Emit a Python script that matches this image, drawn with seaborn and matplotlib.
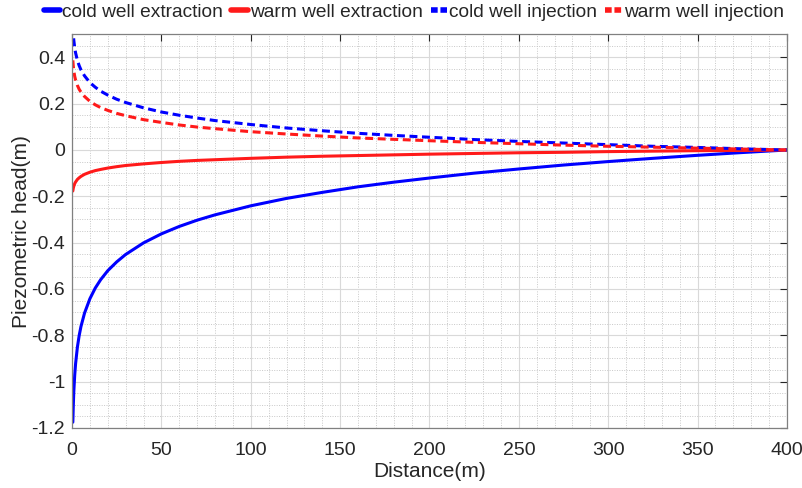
import matplotlib
matplotlib.use("Agg")
import matplotlib.pyplot as plt
from matplotlib.lines import Line2D
from matplotlib.ticker import MultipleLocator
import pandas as pd
import seaborn as sns

# distance from well (m)
distance = [0.45, 0.7, 1, 1.5, 2, 3, 4, 5, 7, 10, 13, 16, 20, 25, 30, 40, 50, 60, 70, 80,
            100, 120, 140, 160, 180, 200, 225, 250, 275, 300, 325, 350, 375, 400]

# piezometric head (m)
cold_extraction = [-1.175, -1.105, -1.042, -0.972, -0.922, -0.851, -0.801, -0.762, -0.704, -0.642,
                   -0.596, -0.560, -0.521, -0.483, -0.451, -0.401, -0.362, -0.330, -0.303, -0.280,
                   -0.241, -0.209, -0.183, -0.159, -0.139, -0.121, -0.100, -0.082, -0.065, -0.050,
                   -0.036, -0.023, -0.011, 0.0]
warm_extraction = [-0.177, -0.165, -0.156, -0.145, -0.138, -0.127, -0.120, -0.114, -0.105, -0.096,
                   -0.089, -0.084, -0.078, -0.072, -0.067, -0.060, -0.054, -0.049, -0.045, -0.042,
                   -0.036, -0.031, -0.027, -0.024, -0.021, -0.018, -0.015, -0.012, -0.010, -0.007,
                   -0.005, -0.003, -0.002, 0.0]
cold_injection = [0.536, 0.501, 0.473, 0.441, 0.419, 0.387, 0.364, 0.346, 0.320, 0.291,
                  0.271, 0.254, 0.237, 0.219, 0.205, 0.182, 0.164, 0.150, 0.138, 0.127,
                  0.110, 0.095, 0.083, 0.072, 0.063, 0.055, 0.045, 0.037, 0.030, 0.023,
                  0.016, 0.011, 0.005, 0.0]
warm_injection = [0.387, 0.362, 0.341, 0.318, 0.302, 0.279, 0.262, 0.250, 0.231, 0.210,
                  0.195, 0.183, 0.171, 0.158, 0.148, 0.131, 0.119, 0.108, 0.099, 0.092,
                  0.079, 0.069, 0.060, 0.052, 0.046, 0.040, 0.033, 0.027, 0.021, 0.016,
                  0.012, 0.008, 0.004, 0.0]

BLUE = "#0000ff"
RED = "#ff1a1a"
series = [
    ("cold well extraction", cold_extraction, BLUE, "-"),
    ("warm well extraction", warm_extraction, RED, "-"),
    ("cold well injection", cold_injection, BLUE, "--"),
    ("warm well injection", warm_injection, RED, "--"),
]

sns.set_theme(style="white")
plt.rcParams["font.family"] = ["Liberation Sans", "DejaVu Sans"]

fig = plt.figure(figsize=(8.03, 4.88), dpi=100)
ax = fig.add_axes([0.0897, 0.123, 0.8903, 0.807])

for label, values, color, ls in series:
    df = pd.DataFrame({"Distance": distance, "Head": values})
    dash = (0, (2.6, 1.5)) if ls == "--" else "-"
    sns.lineplot(data=df, x="Distance", y="Head", ax=ax, color=color,
                 linestyle=dash, linewidth=2.2, legend=False)

ax.set_xlim(0, 400)
ax.set_ylim(-1.2, 0.5)
ax.xaxis.set_major_locator(MultipleLocator(50))
ax.xaxis.set_minor_locator(MultipleLocator(10))
ax.yaxis.set_minor_locator(MultipleLocator(0.05))
ax.set_yticks([-1.2, -1, -0.8, -0.6, -0.4, -0.2, 0, 0.2, 0.4])
ax.set_yticklabels(["-1.2", "-1", "-0.8", "-0.6", "-0.4", "-0.2", "0", "0.2", "0.4"])

ax.grid(which="major", color="#d9d9d9", linewidth=0.8, linestyle="-")
ax.grid(which="minor", color="#c8c8c8", linewidth=0.7, linestyle=(0, (1, 1.5)))
ax.set_axisbelow(True)

ax.tick_params(which="major", direction="in", length=5, width=0.8, colors="#262626",
               labelsize=14, top=True, right=True)
ax.tick_params(axis="x", which="major", pad=10)
ax.tick_params(axis="y", which="major", pad=5)
ax.tick_params(which="minor", length=0, top=True, right=True)
for sp in ax.spines.values():
    sp.set_color("#808080")
    sp.set_linewidth(0.9)

ax.set_xlabel("Distance(m)", fontsize=15, color="#262626", labelpad=2)
ax.set_ylabel("Piezometric head(m)", fontsize=15, color="#262626", labelpad=0)

handles = [Line2D([], [], color=c, linewidth=4,
                  linestyle=("-" if ls == "-" else (0, (1.2, 0.5))))
           for _, _, c, ls in series]
labels = [s[0] for s in series]
fig.legend(handles, labels, loc="upper left", bbox_to_anchor=(0.045, 1.008), ncol=4,
           frameon=False, fontsize=13.8, handlelength=0.85, handletextpad=0.12,
           columnspacing=0.42, borderaxespad=0.0, labelcolor="#262626")

fig.savefig("out.png", dpi=100)
